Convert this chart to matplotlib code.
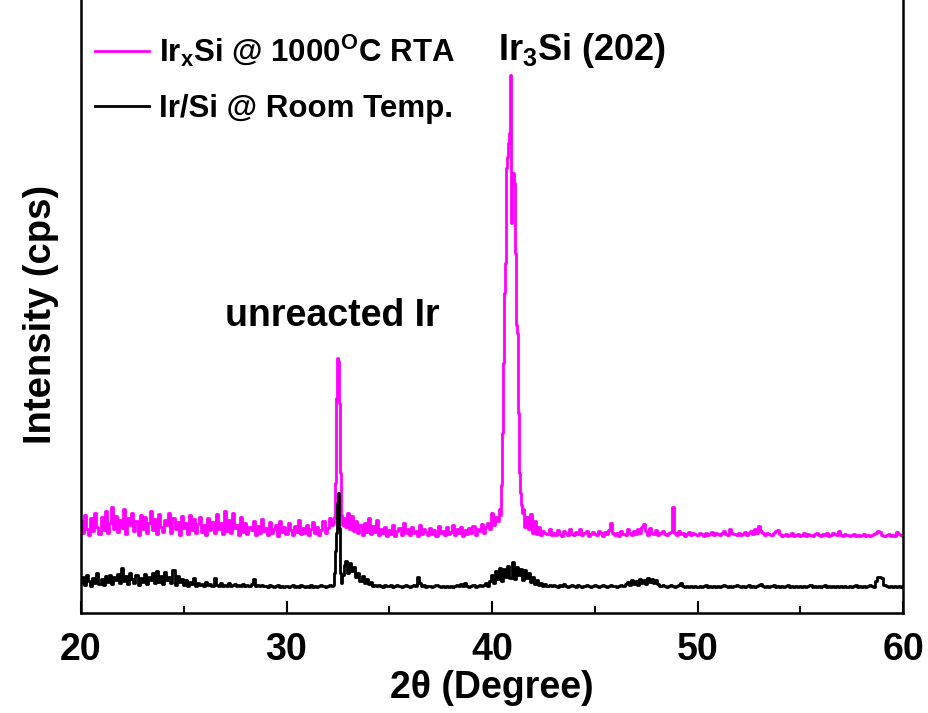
import numpy as np
import matplotlib
matplotlib.use("Agg")
import matplotlib.pyplot as plt

plt.rcParams['font.family'] = ['Liberation Sans', 'DejaVu Sans']
plt.rcParams['font.weight'] = 'bold'
plt.rcParams['mathtext.fontset'] = 'custom'
plt.rcParams['mathtext.rm'] = 'Liberation Sans:bold'
plt.rcParams['mathtext.it'] = 'Liberation Sans:bold'
plt.rcParams['mathtext.bf'] = 'Liberation Sans:bold'
plt.rcParams['mathtext.default'] = 'bf'

# ---------------- data (2theta grid, step 0.1 deg) ----------------
two_theta = np.round(np.arange(20.0, 60.05, 0.1), 2)

rta_bg = [
    92, 80, 98, 84, 78, 95, 82, 100, 86, 79,
    96, 83, 102, 80, 90, 106, 84, 97, 81, 93,
    85, 104, 79, 95, 88, 100, 82, 92, 78, 98,
    84, 96, 80, 90, 102, 83, 94, 79, 99, 86,
    81, 93, 88, 100, 80, 95, 84, 91, 78, 97,
    85, 90, 79, 98, 83, 94, 80, 89, 96, 81,
    88, 78, 95, 83, 91, 80, 99, 84, 90, 79,
    102, 82, 93, 80, 100, 85, 88, 78, 96, 81,
    90, 79, 86, 83, 92, 78, 87, 80, 94, 82,
    85, 78, 91, 80, 84, 88, 77, 92, 81, 86,
    79, 90, 83, 78, 87, 81, 93, 79, 85, 80,
    88, 78, 84, 91, 80, 86, 78, 83, 92, 80,
    85, 95, 88, 90, 130, 255, 210, 98, 95, 86,
    100, 84, 97, 82, 92, 80, 88, 78, 90, 81,
    95, 79, 87, 81, 93, 78, 84, 80, 86, 77,
    83, 79, 88, 77, 82, 85, 78, 90, 80, 84,
    78, 86, 80, 82, 77, 88, 79, 84, 81, 78,
    85, 79, 83, 77, 87, 80, 82, 78, 86, 79,
    81, 88, 78, 84, 80, 86, 77, 83, 79, 85,
    80, 87, 78, 84, 82, 89, 80, 86, 90, 84,
    100, 88, 96, 92, 98, 200, 340, 450, 538, 386,
    430, 283, 135, 95, 88, 84, 82, 96, 84, 99,
    80, 92, 79, 86, 78, 82, 80, 79, 84, 78,
    80, 78, 83, 79, 77, 82, 80, 78, 84, 79,
    78, 81, 79, 84, 78, 80, 82, 77, 79, 81,
    79, 78, 82, 80, 77, 81, 79, 83, 90, 80,
    78, 80, 77, 82, 79, 78, 84, 80, 78, 82,
    79, 84, 80, 86, 89, 82, 78, 85, 80, 79,
    83, 78, 80, 82, 79, 78, 80, 81, 106, 80,
    78, 82, 79, 80, 77, 79, 81, 78, 80, 79,
    78, 80, 79, 77, 80, 78, 79, 81, 78, 80,
    79, 78, 80, 82, 79, 78, 84, 80, 79, 78,
    80, 78, 79, 81, 78, 80, 82, 79, 84, 80,
    87, 82, 80, 78, 80, 79, 78, 80, 82, 83,
    79, 77, 78, 79, 77, 78, 80, 77, 78, 79,
    77, 78, 80, 77, 79, 78, 77, 79, 80, 78,
    77, 79, 78, 80, 77, 78, 80, 79, 78, 82,
    78, 77, 79, 78, 77, 78, 79, 77, 78, 77,
    78, 79, 77, 78, 77, 78, 79, 80, 82, 81,
    78, 77, 78, 79, 77, 78, 77, 81, 79, 78,
    77,
]

# finely sampled peak regions (RTA sample)
rta_pk1_x = [32.3, 32.35, 32.4, 32.45, 32.5, 32.55, 32.6, 32.65, 32.7, 32.75, 32.8]
rta_pk1_y = [90, 96, 130, 215, 255, 252, 210, 140, 98, 88, 95]
rta_pk2_x = [40.3, 40.35, 40.4, 40.45, 40.5, 40.55, 40.6, 40.65, 40.7, 40.75,
             40.8, 40.85, 40.9, 40.95, 41.0, 41.05, 41.1, 41.15, 41.2, 41.25,
             41.3, 41.35, 41.4, 41.45, 41.5, 41.55, 41.6]
rta_pk2_y = [92, 104, 98, 128, 180, 250, 320, 350, 445, 456,
             470, 480, 538, 390, 433, 440, 430, 360, 288, 280,
             200, 140, 120, 108, 100, 104, 86]

rt_bg = [
    30, 36, 28, 38, 32, 27, 35, 30, 40, 29,
    34, 28, 37, 31, 38, 29, 36, 33, 39, 30,
    45, 32, 37, 29, 40, 34, 30, 38, 28, 35,
    31, 39, 29, 36, 33, 40, 30, 42, 31, 37,
    29, 41, 33, 36, 30, 43, 28, 37, 31, 34,
    28, 33, 27, 31, 29, 35, 27, 30, 28, 29,
    27, 31, 28, 29, 27, 35, 28, 27, 30, 27,
    28, 27, 30, 27, 28, 29, 27, 28, 27, 29,
    27, 28, 27, 29, 34, 27, 28, 27, 28, 27,
    27, 26, 28, 27, 26, 27, 28, 26, 27, 26,
    27, 26, 27, 28, 26, 27, 26, 28, 27, 26,
    27, 26, 28, 26, 27, 26, 27, 28, 27, 26,
    27, 28, 27, 28, 62, 110, 85, 30, 48, 52,
    40, 50, 42, 46, 36, 40, 32, 37, 30, 34,
    29, 31, 27, 28, 27, 28, 27, 26, 28, 27,
    27, 28, 26, 27, 28, 27, 26, 27, 28, 27,
    26, 27, 28, 27, 36, 30, 27, 28, 26, 27,
    27, 26, 27, 28, 27, 26, 27, 26, 27, 26,
    27, 26, 27, 28, 27, 29, 27, 30, 27, 26,
    27, 28, 26, 27, 28, 27, 28, 30, 27, 32,
    38, 30, 42, 34, 45, 32, 44, 36, 47, 35,
    51, 34, 46, 38, 44, 33, 43, 35, 40, 31,
    36, 29, 33, 28, 30, 27, 29, 27, 28, 27,
    28, 27, 26, 28, 27, 29, 27, 26, 27, 28,
    27, 26, 28, 27, 26, 27, 28, 27, 26, 27,
    28, 27, 26, 27, 28, 27, 26, 27, 28, 27,
    27, 26, 27, 28, 27, 29, 31, 28, 33, 29,
    32, 28, 34, 30, 33, 29, 35, 31, 34, 30,
    33, 29, 27, 28, 27, 26, 27, 28, 27, 26,
    27, 28, 30, 27, 26, 27, 26, 27, 26, 27,
    26, 27, 26, 27, 28, 26, 27, 26, 27, 26,
    27, 26, 27, 28, 27, 26, 27, 26, 27, 28,
    27, 26, 27, 26, 27, 28, 26, 27, 26, 27,
    28, 29, 27, 26, 27, 26, 27, 28, 26, 27,
    26, 27, 26, 27, 28, 26, 27, 26, 27, 26,
    27, 26, 27, 26, 27, 28, 26, 27, 26, 27,
    26, 27, 28, 26, 27, 26, 27, 26, 27, 26,
    27, 26, 27, 26, 27, 26, 27, 28, 26, 27,
    26, 27, 26, 27, 28, 27, 26, 32, 36, 36,
    35, 28, 27, 26, 27, 26, 27, 26, 27, 26,
    27,
]
rt_pk_x = [32.3, 32.35, 32.4, 32.45, 32.5, 32.55, 32.6, 32.65, 32.7, 32.75, 32.8]
rt_pk_y = [28, 40, 62, 80, 110, 120, 85, 40, 30, 38, 48]

legend_labels = [r"Ir$_{x}$Si @ 1000$^{O}$C RTA", "Ir/Si @ Room Temp."]
x_ticks = [20, 30, 40, 50, 60]


def merge(bg_x, bg_y, segments):
    bg_x = np.asarray(bg_x, float)
    bg_y = np.asarray(bg_y, float)
    keep = np.ones(len(bg_x), bool)
    xs, ys = [], []
    for sx, sy in segments:
        keep &= ~((bg_x >= min(sx) - 1e-6) & (bg_x <= max(sx) + 1e-6))
        xs.append(np.asarray(sx, float))
        ys.append(np.asarray(sy, float))
    x = np.concatenate([bg_x[keep]] + xs)
    y = np.concatenate([bg_y[keep]] + ys)
    o = np.argsort(x)
    return x[o], y[o]


rta_x, rta_y = merge(two_theta, rta_bg, [(rta_pk1_x, rta_pk1_y), (rta_pk2_x, rta_pk2_y)])
rt_x, rt_y = merge(two_theta, rt_bg, [(rt_pk_x, rt_pk_y)])

fig = plt.figure(figsize=(9.29, 7.13), dpi=100)
ax = fig.add_axes([81 / 929, 100 / 713, 822 / 929, 613 / 713])

ax.plot(rta_x, rta_y, color='#ff00ff', lw=2.0, drawstyle='steps-mid',
        label=legend_labels[0], zorder=2)
ax.plot(rt_x, rt_y, color='black', lw=2.0, drawstyle='steps-mid',
        label=legend_labels[1], zorder=3)

ax.set_xlim(20, 60)
ax.set_ylim(0, 613)
ax.set_xticks(x_ticks)
ax.set_xticks([25, 35, 45, 55], minor=True)
ax.set_yticks([])
ax.tick_params(axis='x', which='major', direction='in', length=9, width=1.5,
               labelsize=27, pad=14)
ax.tick_params(axis='x', which='minor', direction='in', length=5, width=1.5)
for lab in ax.get_xticklabels():
    lab.set_fontweight('bold')
for side in ['left', 'right', 'bottom']:
    ax.spines[side].set_linewidth(1.8)
ax.spines['top'].set_visible(False)

ax.set_xlabel("2θ (Degree)", fontsize=27, fontweight='bold', labelpad=1)
ax.set_ylabel("Intensity (cps)", fontsize=27.5, fontweight='bold', labelpad=16,
              y=0.487)

ax.text(32.25, 297, "unreacted Ir", fontsize=27, fontweight='bold',
        ha='center', va='center')
ax.text(44.4, 563, r"Ir$_{3}$Si (202)", fontsize=26, fontweight='bold',
        ha='center', va='center')

leg = ax.legend(loc='upper left', bbox_to_anchor=(-0.01, 0.983), frameon=False,
                fontsize=22.5, handlelength=1.75, handletextpad=0.3,
                labelspacing=0.8, borderaxespad=0.3)
for t in leg.get_texts():
    t.set_fontweight('bold')
for h in leg.get_lines():
    h.set_linewidth(2.0)

fig.savefig("out.png", dpi=100)
